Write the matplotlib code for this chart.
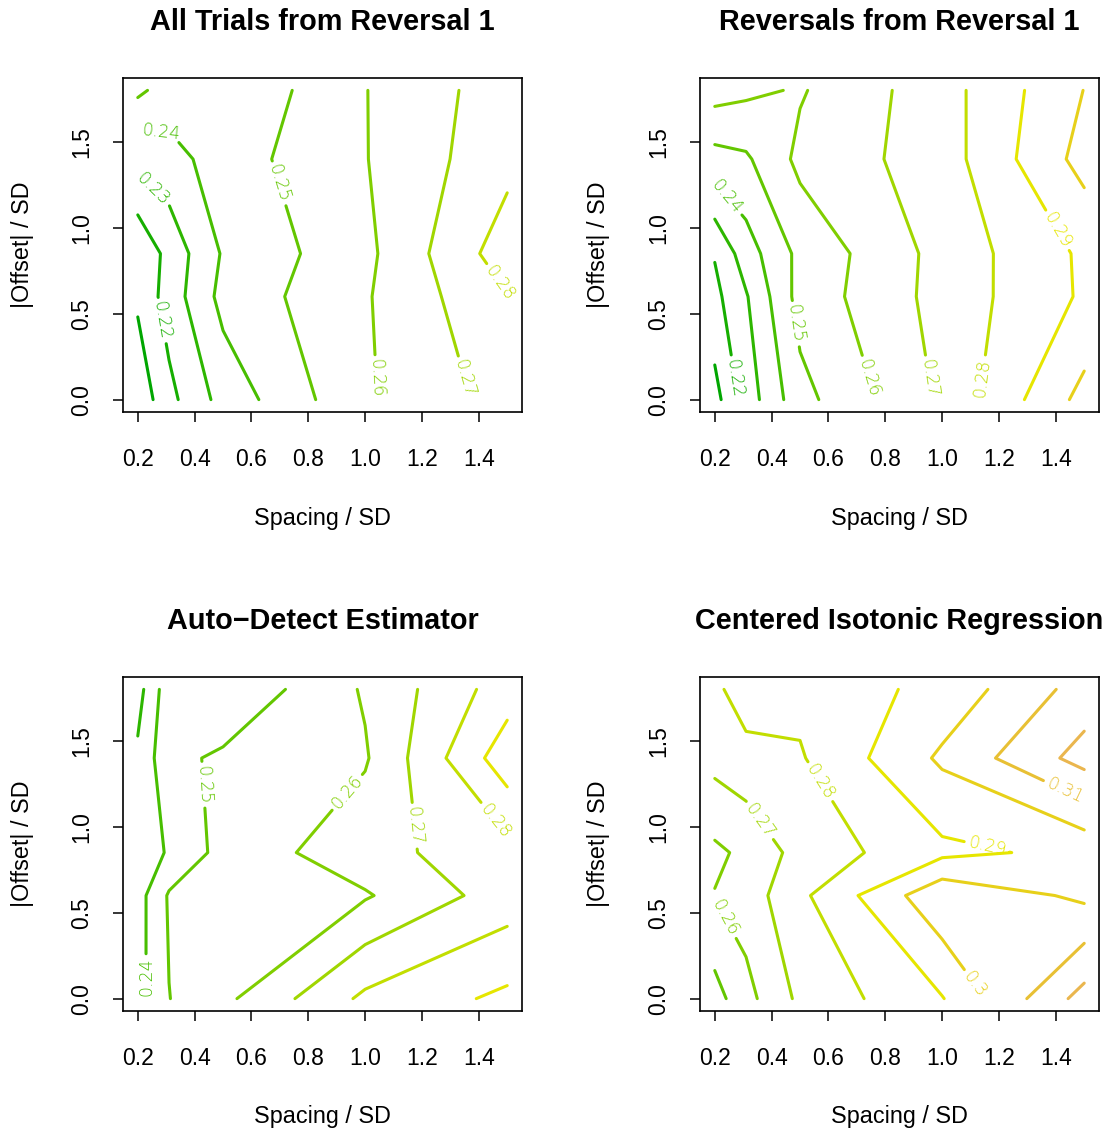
import colorsys
import numpy as np
import matplotlib
matplotlib.use("Agg")
import matplotlib.pyplot as plt

# ---------------- data ----------------
spacing = [0.2, 0.31, 0.5, 1.0, 1.5]          # Spacing / SD grid
offset = [0.0, 0.6, 0.85, 1.4, 1.8]           # |Offset| / SD grid

# rows follow `offset`, columns follow `spacing`
z_all_trials = [
    [0.2031, 0.2172, 0.2337, 0.2587, 0.2739],
    [0.2117, 0.2245, 0.2431, 0.2590, 0.2795],
    [0.2105, 0.2236, 0.2410, 0.2575, 0.2854],
    [0.2337, 0.2360, 0.2450, 0.2596, 0.2770],
    [0.2519, 0.2458, 0.2408, 0.2597, 0.2753],
]
z_reversals = [
    [0.2063, 0.2245, 0.2467, 0.2717, 0.3033],
    [0.2173, 0.2291, 0.2538, 0.2736, 0.2914],
    [0.2207, 0.2353, 0.2527, 0.2734, 0.2917],
    [0.2462, 0.2485, 0.2625, 0.2752, 0.3036],
    [0.2642, 0.2620, 0.2591, 0.2759, 0.3002],
]
z_auto_detect = [
    [0.2365, 0.2498, 0.2576, 0.2821, 0.2922],
    [0.2360, 0.2511, 0.2550, 0.2590, 0.2748],
    [0.2324, 0.2414, 0.2534, 0.2662, 0.2765],
    [0.2318, 0.2474, 0.2517, 0.2590, 0.2959],
    [0.2262, 0.2462, 0.2413, 0.2611, 0.2852],
]
z_cir = [
    [0.2461, 0.2568, 0.2722, 0.2895, 0.3239],
    [0.2604, 0.2647, 0.2778, 0.3077, 0.2980],
    [0.2580, 0.2622, 0.2737, 0.2876, 0.2925],
    [0.2733, 0.2765, 0.2791, 0.3017, 0.3238],
    [0.2777, 0.2855, 0.2826, 0.2933, 0.3141],
]

titles = ["All Trials from Reversal 1", "Reversals from Reversal 1",
          "Auto\u2212Detect Estimator", "Centered Isotonic Regression"]
contour_levels = [0.21, 0.22, 0.23, 0.24, 0.25, 0.26, 0.27, 0.28,
                  0.29, 0.30, 0.31, 0.32]
x_ticks = [0.2, 0.4, 0.6, 0.8, 1.0, 1.2, 1.4]
x_tick_labels = ["0.2", "0.4", "0.6", "0.8", "1.0", "1.2", "1.4"]
y_ticks = [0.0, 0.5, 1.0, 1.5]
y_tick_labels = ["0.0", "0.5", "1.0", "1.5"]
x_label = "Spacing / SD"
y_label = "|Offset| / SD"

# ---------------- styling / layout ----------------
# contour label anchor points (layout, not data)
label_spots = [
    [(0.285, 0.46), (0.245, 1.21), (0.285, 1.51), (0.68, 1.25),
     (1.037, 0.125), (1.355, 0.125), (1.462, 0.665)],
    [(0.27, 0.125), (0.236, 1.17), (0.477, 0.44), (0.738, 0.125),
     (0.955, 0.125), (1.142, 0.125), (1.40, 0.98)],
    [(0.229, 0.125), (0.421, 1.244), (0.939, 1.198), (1.173, 1.006),
     (1.455, 1.03)],
    [(0.236, 0.47), (0.361, 1.04), (0.565, 1.256), (1.161, 0.907),
     (1.118, 0.085), (1.425, 1.19)],
]


def terrain_colors(n):
    """R's terrain.colors(n)."""
    k = n // 2
    cols = []
    for i in range(k):
        f = i / (k - 1)
        cols.append(colorsys.hsv_to_rgb(4 / 12 - 2 / 12 * f, 1.0, 0.65 + 0.25 * f))
    m = n - k + 1
    for i in range(1, m):
        f = i / (m - 1)
        cols.append(colorsys.hsv_to_rgb(2 / 12 * (1 - f), 1.0 - f, 0.9 + 0.05 * f))
    return cols


palette = terrain_colors(18)
level_color = {lev: palette[i] for i, lev in enumerate(contour_levels)}

plt.rcParams["font.family"] = ["Liberation Sans", "DejaVu Sans"]

W, H = 1107, 1129
fig = plt.figure(figsize=(W / 100, H / 100), dpi=100)

ax_w, ax_h = 399, 334
lefts = [123, 700, 123, 700]
tops = [78, 78, 677, 677]
datasets = [z_all_trials, z_reversals, z_auto_detect, z_cir]

X, Y = np.meshgrid(spacing, offset)

for k in range(4):
    ax = fig.add_axes([lefts[k] / W, 1 - (tops[k] + ax_h) / H, ax_w / W, ax_h / H])
    Z = np.array(datasets[k])
    lv = [l for l in contour_levels if Z.min() < l < Z.max()]
    cs = ax.contour(X, Y, Z, levels=lv, colors=[level_color[l] for l in lv],
                    linewidths=2.2)
    cs.set_capstyle("round")
    cs.set_joinstyle("round")

    with plt.rc_context({"font.family": ["DejaVu Sans"], "font.weight": "light"}):
        cs.clabel(manual=label_spots[k], inline=True, inline_spacing=6,
                  fontsize=12.5, fmt=lambda v: f"{round(v, 2):g}")

    ax.set_xlim(0.148, 1.552)
    ax.set_ylim(-0.072, 1.872)
    ax.set_xticks(x_ticks)
    ax.set_xticklabels(x_tick_labels)
    ax.set_yticks(y_ticks)
    ax.set_yticklabels(y_tick_labels)
    ax.tick_params(direction="out", length=7, width=1.1, labelsize=16.5,
                   colors="black")
    ax.tick_params(axis="x", pad=27)
    ax.tick_params(axis="y", pad=22.5)
    for t in ax.get_xticklabels():
        t.set_va("center")
    for t in ax.get_yticklabels():
        t.set_rotation(90)
        t.set_va("center")
        t.set_ha("center")
    for sp in ax.spines.values():
        sp.set_linewidth(1.2)
        sp.set_color("black")

    ax.set_xlabel(x_label, fontsize=16.8)
    ax.xaxis.set_label_coords(0.5, -106 / ax_h)
    ax.xaxis.label.set_va("center")
    ax.set_ylabel(y_label, fontsize=16.8)
    ax.yaxis.set_label_coords(-101 / ax_w, 0.5)
    ax.yaxis.label.set_va("center")
    ax.yaxis.label.set_ha("center")

    ax.text(0.5, 1 + 56 / ax_h, titles[k], transform=ax.transAxes,
            ha="center", va="center", fontsize=20.8, fontweight="bold")

fig.savefig("out.png", dpi=100, facecolor="white")
